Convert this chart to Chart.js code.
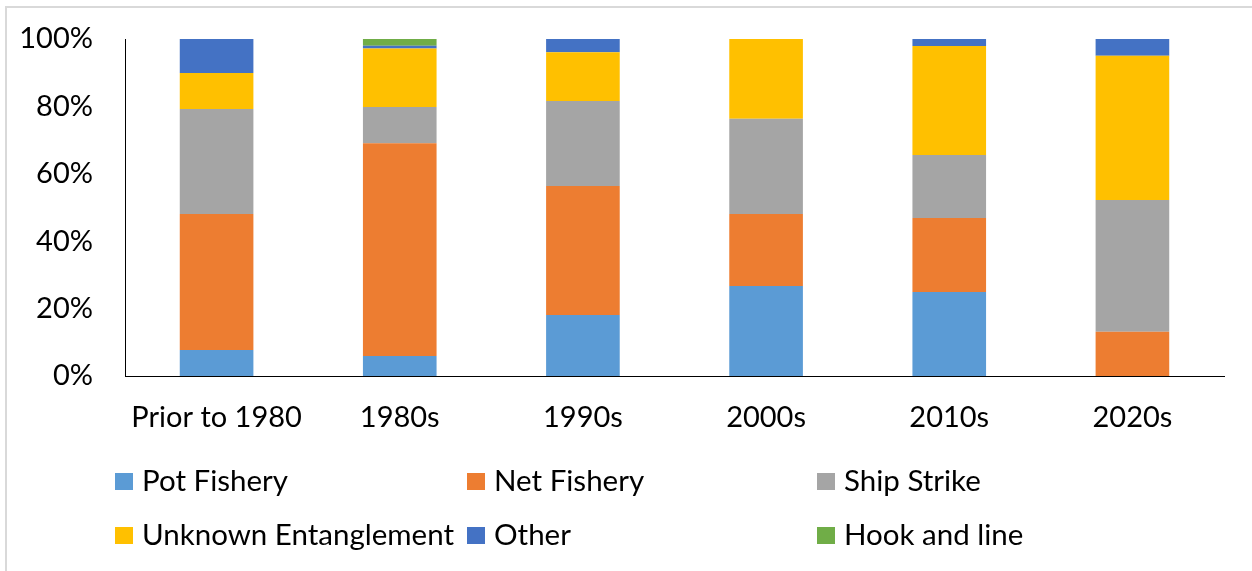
<!DOCTYPE html>
<html>
<head>
<meta charset="utf-8">
<script src="https://cdn.jsdelivr.net/npm/chart.js@4"></script>
<style>
    body { margin: 0; background: #fff; }
    #frame { position: absolute; left: 5px; top: 6px; width: 1260px; height: 600px;
             border-left: 2px solid #d9d9d9; border-top: 2px solid #d9d9d9; }
    #myChart { position: absolute; left: 0; top: 0; }
</style>
</head>
<body>
<div id="frame"></div>
<canvas id="myChart" width="1252" height="571"></canvas>
<script>
// categories and share (%) of each cause per decade
var decades = ["Prior to 1980", "1980s", "1990s", "2000s", "2010s", "2020s"];
var potFishery = [7.7, 5.9, 18.1, 26.7, 24.9, 0];
var netFishery = [40.4, 63.2, 38.3, 21.4, 22.0, 13.1];
var shipStrike = [31.1, 10.7, 25.2, 28.2, 18.7, 39.1];
var unknownEntanglement = [10.7, 17.4, 14.5, 23.7, 32.3, 42.8];
var other = [10.1, 0.8, 3.9, 0, 2.1, 5.0];
var hookAndLine = [0, 2.0, 0, 0, 0, 0];
var yTicks = [0, 20, 40, 60, 80, 100];

var fontName = "Lato";

// legend laid out in a 3 x 2 grid like the original
var gridLegend = {
    id: "gridLegend",
    afterDraw: function (chart) {
        var ctx = chart.ctx;
        var cols = [115, 467, 817];
        var rows = [481, 535];
        ctx.save();
        ctx.font = "29.5px " + fontName;
        ctx.textBaseline = "middle";
        ctx.textAlign = "left";
        chart.data.datasets.forEach(function (ds, i) {
            var x = cols[i % 3];
            var y = rows[Math.floor(i / 3)];
            ctx.fillStyle = ds.backgroundColor;
            ctx.fillRect(x, y - 8, 18, 17);
            ctx.fillStyle = "#000";
            ctx.fillText(ds.label, x + 27, y);
        });
        ctx.restore();
    }
};

var ctx = document.getElementById("myChart").getContext("2d");
var chart = new Chart(ctx, {
    type: "bar",
    data: {
        labels: decades,
        datasets: [
            { label: "Pot Fishery", data: potFishery, backgroundColor: "#5B9BD5" },
            { label: "Net Fishery", data: netFishery, backgroundColor: "#ED7D31" },
            { label: "Ship Strike", data: shipStrike, backgroundColor: "#A5A5A5" },
            { label: "Unknown Entanglement", data: unknownEntanglement, backgroundColor: "#FFC000" },
            { label: "Other", data: other, backgroundColor: "#4472C4" },
            { label: "Hook and line", data: hookAndLine, backgroundColor: "#70AD47" }
        ]
    },
    options: {
        responsive: false,
        animation: false,
        categoryPercentage: 1,
        barPercentage: 0.402,
        layout: { padding: { left: 0, top: 39, right: 28, bottom: 115 } },
        plugins: {
            legend: { display: false },
            tooltip: { enabled: false }
        },
        scales: {
            x: {
                stacked: true,
                grid: { display: false, drawTicks: false },
                border: { display: true, color: "#000", width: 1 },
                ticks: { color: "#000", padding: 24, font: { family: fontName, size: 29 } },
                afterFit: function (scale) {
                    scale.height = 80;
                    scale.paddingLeft = 0;
                    scale.paddingRight = 0;
                }
            },
            y: {
                stacked: true,
                min: 0,
                max: 100,
                afterBuildTicks: function (scale) {
                    scale.ticks = yTicks.map(function (v) { return { value: v }; });
                },
                grid: { display: false, drawTicks: false },
                border: { display: true, color: "#000", width: 1 },
                ticks: {
                    color: "#000",
                    padding: 32,
                    font: { family: fontName, size: 29 },
                    callback: function (v) { return v + "%"; }
                },
                afterFit: function (scale) {
                    scale.width = 125;
                    scale.paddingTop = 0;
                    scale.paddingBottom = 0;
                }
            }
        }
    },
    plugins: [gridLegend]
});
</script>
</body>
</html>
